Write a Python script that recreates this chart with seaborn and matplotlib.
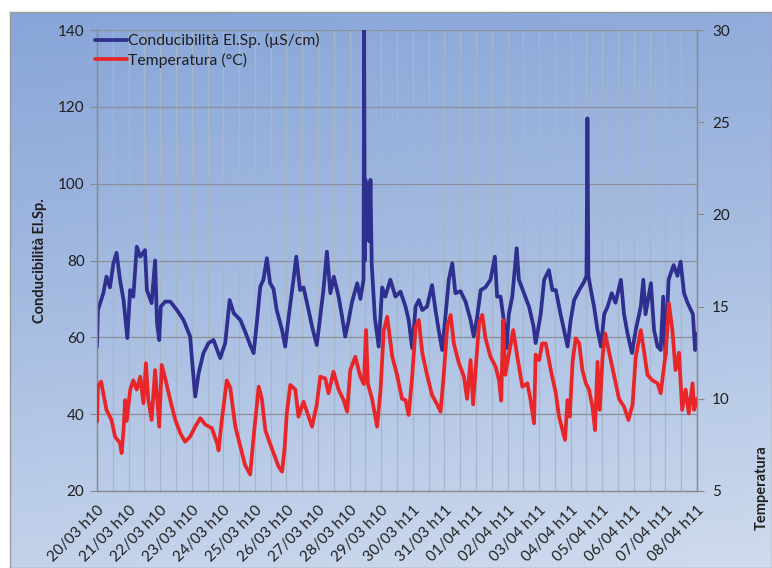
import numpy as np
import pandas as pd
import matplotlib
matplotlib.use("Agg")
import matplotlib.pyplot as plt
from matplotlib.colors import LinearSegmentedColormap
import matplotlib.transforms as mtransforms
import seaborn as sns

# ---- data: time in days since 20/03 h10 ----
cond_days = [0.00, 0.03, 0.20, 0.30, 0.41, 0.52, 0.62, 0.73, 0.84, 0.96, 1.05, 1.15, 1.26, 1.37,
             1.52, 1.58, 1.73, 1.84, 1.90, 1.97, 2.02, 2.16, 2.32, 2.53, 2.74, 2.95, 3.00, 3.11,
             3.22, 3.37, 3.53, 3.69, 3.90, 4.06, 4.20, 4.33, 4.54, 4.69, 4.85, 4.96, 5.06, 5.17,
             5.27, 5.38, 5.48, 5.59, 5.69, 5.86, 5.96, 6.07, 6.22, 6.31, 6.43, 6.54, 6.70, 6.81,
             6.96, 7.07, 7.17, 7.28, 7.39, 7.50, 7.65, 7.76, 7.86, 7.97, 8.07, 8.24, 8.34, 8.44,
             8.46, 8.48, 8.50, 8.55, 8.58, 8.62, 8.66, 8.70, 8.80, 8.92, 9.03, 9.13, 9.29, 9.45,
             9.61, 9.77, 9.87, 9.98, 10.09, 10.19, 10.30, 10.45, 10.61, 10.72, 10.82, 10.93,
             11.04, 11.14, 11.25, 11.35, 11.51, 11.67, 11.83, 11.93, 12.04, 12.15, 12.30, 12.46,
             12.60, 12.67, 12.78, 12.88, 12.97, 13.04, 13.15, 13.29, 13.36, 13.52, 13.68, 13.82,
             13.89, 14.05, 14.16, 14.31, 14.42, 14.53, 14.68, 14.79, 14.90, 15.00, 15.11, 15.27,
             15.42, 15.50, 15.53, 15.56, 15.64, 15.74, 15.85, 15.96, 16.06, 16.17, 16.30, 16.42,
             16.59, 16.69, 16.80, 16.94, 17.06, 17.22, 17.30, 17.37, 17.54, 17.64, 17.75, 17.85,
             17.93, 18.00, 18.10, 18.26, 18.38, 18.48, 18.59, 18.70, 18.87, 18.94, 18.99, 19.00]
cond_values = [57.6, 67.1, 71.5, 75.8, 73.0, 79.3, 82.0, 74.9, 69.7, 59.8, 72.3, 70.6, 83.6, 81.0,
               82.7, 72.3, 68.9, 80.0, 63.7, 59.3, 68.0, 69.3, 69.3, 67.1, 64.5, 60.2, 55.0, 44.6,
               50.7, 55.9, 58.5, 59.3, 54.6, 58.5, 69.7, 66.3, 64.5, 61.5, 58.0, 55.9, 63.7, 73.2,
               75.0, 80.6, 74.1, 72.6, 67.1, 61.9, 57.6, 65.4, 74.9, 81.0, 72.3, 73.0, 67.1, 62.8,
               58.0, 65.4, 72.3, 82.3, 71.5, 75.8, 70.6, 65.4, 60.2, 64.5, 69.0, 74.1, 70.0, 75.0,
               140.0, 80.0, 101.0, 95.0, 100.0, 85.0, 101.0, 79.0, 65.0, 57.6, 73.0, 70.6, 75.0, 70.6,
               71.9, 68.0, 64.5, 57.2, 68.0, 69.7, 67.1, 68.0, 73.6, 67.0, 61.9, 56.7,
               66.0, 75.0, 79.3, 71.5, 72.0, 69.3, 64.5, 60.2, 65.4, 72.3, 73.0, 75.0,
               81.0, 70.6, 70.6, 64.5, 57.2, 66.0, 70.6, 83.2, 75.0, 71.5, 68.0, 63.0,
               58.5, 66.0, 75.0, 77.5, 72.3, 72.3, 66.0, 61.9, 57.6, 64.5, 69.7, 72.3,
               74.4, 76.0, 117.0, 76.0, 72.3, 68.0, 61.9, 57.6, 66.0, 68.0, 71.5, 69.0,
               75.0, 66.0, 61.0, 55.9, 61.9, 68.0, 75.0, 66.0, 74.1, 61.9, 57.6, 56.7,
               70.6, 55.0, 75.0, 78.8, 76.0, 79.7, 71.5, 69.0, 66.0, 56.7, 58.5, 61.0]

temp_days = [0.00, 0.03, 0.13, 0.30, 0.46, 0.57, 0.73, 0.78, 0.84, 0.89, 0.94, 1.05, 1.15, 1.26,
             1.37, 1.47, 1.55, 1.62, 1.73, 1.84, 1.97, 2.05, 2.16, 2.32, 2.48, 2.64, 2.79, 2.95,
             3.11, 3.27, 3.43, 3.64, 3.80, 3.85, 3.95, 4.11, 4.22, 4.38, 4.54, 4.69, 4.85, 4.96,
             5.12, 5.22, 5.33, 5.43, 5.59, 5.75, 5.86, 5.94, 6.01, 6.12, 6.28, 6.38, 6.54, 6.70,
             6.81, 6.96, 7.07, 7.23, 7.33, 7.49, 7.65, 7.81, 7.92, 8.02, 8.18, 8.34, 8.45, 8.52,
             8.58, 8.71, 8.87, 8.98, 9.08, 9.19, 9.35, 9.50, 9.66, 9.77, 9.87, 9.98, 10.09, 10.19,
             10.30, 10.45, 10.61, 10.77, 10.88, 10.98, 11.09, 11.20, 11.30, 11.46, 11.62, 11.72,
             11.83, 11.91, 11.99, 12.10, 12.20, 12.30, 12.46, 12.62, 12.73, 12.80, 12.86, 12.93,
             13.04, 13.18, 13.31, 13.47, 13.63, 13.73, 13.84, 13.89, 14.00, 14.10, 14.21, 14.37,
             14.53, 14.63, 14.74, 14.82, 14.90, 14.97, 15.06, 15.16, 15.27, 15.37, 15.48, 15.58,
             15.69, 15.77, 15.85, 15.92, 16.01, 16.09, 16.22, 16.38, 16.53, 16.69, 16.83, 16.96,
             17.06, 17.22, 17.33, 17.43, 17.59, 17.75, 17.85, 18.01, 18.11, 18.22, 18.32, 18.43,
             18.53, 18.64, 18.74, 18.86, 18.91, 19.00]
temp_values = [8.76, 10.66, 10.93, 9.4, 8.85, 7.95, 7.6, 7.06, 8.3, 9.93, 8.8, 10.48, 11.0, 10.5,
               11.2, 9.76, 11.93, 10.0, 8.85, 11.56, 8.49, 11.83, 11.1, 9.93, 8.85, 8.13, 7.67, 7.95,
               8.49, 8.95, 8.6, 8.4, 7.6, 7.2, 8.8, 11.0, 10.6, 8.5, 7.4, 6.4, 5.9, 7.95,
               10.66, 10.0, 8.3, 7.8, 7.06, 6.32, 6.05, 7.3, 9.2, 10.75, 10.5, 9.03, 9.84, 9.03,
               8.49, 9.7, 11.2, 11.1, 10.3, 11.47, 10.5, 9.93, 9.3, 11.56, 12.28, 11.2, 10.8, 13.73,
               10.8, 10.0, 8.49, 10.5, 13.7, 14.45, 12.3, 11.3, 10.0, 9.93, 9.12, 11.2, 13.9, 14.27,
               12.5, 11.3, 10.2, 9.7, 9.3, 11.3, 13.9, 14.55, 13.0, 11.93, 11.2, 10.0,
               12.1, 9.7, 11.6, 14.1, 14.55, 13.3, 12.28, 11.75, 11.0, 9.9, 14.27, 11.3,
               12.4, 13.73, 12.28, 10.66, 10.84, 9.93, 8.67, 12.4, 12.1, 13.0, 13.0, 11.56,
               10.3, 9.05, 8.3, 7.77, 9.93, 9.03, 12.0, 13.28, 13.0, 11.56, 10.84, 10.5,
               9.57, 8.3, 12.0, 9.4, 12.28, 13.55, 12.5, 11.2, 10.0, 9.57, 8.85, 9.7,
               12.28, 13.73, 12.5, 11.3, 11.0, 10.84, 10.3, 12.5, 15.18, 13.73, 11.56, 12.5,
               9.4, 10.5, 9.21, 10.84, 9.4, 10.0]

tick_labels = ["20/03 h10", "21/03 h10", "22/03 h10", "23/03 h10", "24/03 h10", "25/03 h10",
               "26/03 h10", "27/03 h10", "28/03 h10", "29/03 h10", "30/03 h11", "31/03 h11",
               "01/04 h11", "02/04 h11", "03/04 h11", "04/04 h11", "05/04 h11", "06/04 h11",
               "07/04 h11", "08/04 h11"]

cond_label = "Conducibilità El.Sp. (µS/cm)"
temp_label = "Temperatura (°C)"

cond_df = pd.DataFrame({"giorno": cond_days, "valore": cond_values})
temp_df = pd.DataFrame({"giorno": temp_days, "valore": temp_values})

# ---- style ----
sns.set_theme(style="white")
plt.rcParams["font.family"] = ["Lato", "DejaVu Sans"]
text_color = "#1f1f1f"
axis_gray = "#8a8a8a"

W, H = 772, 568
fig = plt.figure(figsize=(W / 100, H / 100), dpi=100)
fig.patch.set_facecolor("white")

# gradient panel behind the chart
bg = fig.add_axes([10 / W, 0, (W - 10) / W, (H - 12) / H], zorder=-5)
grad = LinearSegmentedColormap.from_list("panel", ["#88a5d8", "#a8bee2", "#cfdbee"])
yy = np.linspace(0, 1, 256)[:, None]
xx = np.linspace(0, 1, 256)[None, :]
bg.imshow(0.85 * yy + 0.15 * xx, cmap=grad, aspect="auto", extent=[0, 1, 1, 0])
bg.set_xticks([])
bg.set_yticks([])
for s in bg.spines.values():
    s.set_color("#9a9a9a")
    s.set_linewidth(1.0)

ax = fig.add_axes([97 / W, 1 - 491 / H, 600 / W, 461 / H])
ax.set_facecolor("none")
ax2 = ax.twinx()

sns.lineplot(data=cond_df, x="giorno", y="valore", ax=ax, color="#2e2f8f", linewidth=2.7,
             estimator=None, sort=False, label=cond_label, zorder=3)
sns.lineplot(data=temp_df, x="giorno", y="valore", ax=ax2, color="#e8262a", linewidth=2.7,
             estimator=None, sort=False, label=temp_label, zorder=3)

ax.set_xlim(0, 19)
ax.set_ylim(20, 140)
ax2.set_ylim(5, 30)

# x axis: a tick every 12 hours, a label every day
half_days = np.arange(0, 19.01, 0.5)
ax.set_xticks(half_days)
ax.set_xticklabels([tick_labels[int(t)] if float(t).is_integer() else "" for t in half_days],
                   rotation=45, ha="right", va="top", rotation_mode="anchor",
                   fontsize=11, color=text_color)
shift = mtransforms.ScaledTranslation(1 / 100, -6 / 100, fig.dpi_scale_trans)
for lbl in ax.get_xticklabels():
    lbl.set_transform(lbl.get_transform() + shift)

ax.set_yticks(np.arange(20, 141, 20))
ax.set_yticklabels([str(v) for v in range(20, 141, 20)], fontsize=11, color=text_color)
ax2.set_yticks(np.arange(5, 31, 5))
ax2.set_yticklabels([str(v) for v in range(5, 31, 5)], fontsize=11, color=text_color)

ax.tick_params(axis="both", direction="out", length=5, width=0.8, color=axis_gray, pad=4)
ax2.tick_params(axis="y", direction="out", length=5, width=0.8, color=axis_gray, pad=6)

# grid lines
for t in half_days[1:]:
    ax.axvline(t, color="#a9b5c9", linewidth=0.9, zorder=0)
for v in range(40, 141, 20):
    ax.axhline(v, color="#8c9099", linewidth=0.9, zorder=0)

for a in (ax, ax2):
    a.spines["top"].set_visible(False)
    for side in ("left", "bottom", "right"):
        a.spines[side].set_color(axis_gray)
        a.spines[side].set_linewidth(0.9)
ax2.set_facecolor("none")

ax.set_xlabel("")
ax.set_ylabel("Conducibilità El.Sp.", fontsize=10.5, fontweight="bold", color=text_color, labelpad=8)
ax2.set_ylabel("")
fig.text(762 / W, 1 - 488 / H, "Temperatura", rotation=90, ha="center", va="center",
         fontsize=10.5, fontweight="bold", color=text_color)

# legend combining both series
h1, l1 = ax.get_legend_handles_labels()
h2, l2 = ax2.get_legend_handles_labels()
ax.get_legend().remove()
ax2.get_legend().remove()
leg = ax2.legend(h1 + h2, l1 + l2, loc="upper left", bbox_to_anchor=(-0.013, 1.007), frameon=False,
                 fontsize=11.3, handlelength=2.0, handletextpad=0.1, labelspacing=0.3,
                 borderaxespad=0.0)
for t in leg.get_texts():
    t.set_color(text_color)

fig.savefig("out.png", dpi=100)
